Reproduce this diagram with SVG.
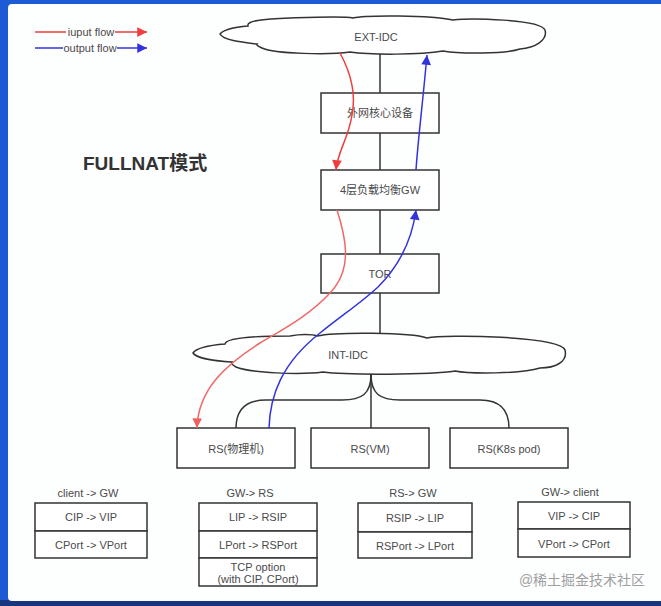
<svg xmlns="http://www.w3.org/2000/svg" width="661" height="606" viewBox="0 0 661 606">
<style>
text{font-family:"Liberation Sans","Noto Sans CJK SC",sans-serif;font-size:11px;fill:#4a4a4a;text-anchor:middle}
.box{fill:#fff;stroke:#333;stroke-width:1.5}
.cloud{fill:#fff;stroke:#333;stroke-width:1.5}
.line{fill:none;stroke:#333;stroke-width:1.5}
.red{fill:none;stroke:#f03c3c;stroke-width:1.5}
.red2{fill:none;stroke:#f06868;stroke-width:1.5}
.blue{fill:none;stroke:#3333dd;stroke-width:1.5}
</style>
<defs>
<marker id="ar" viewBox="0 0 10 10" refX="10" refY="5" markerWidth="8" markerHeight="6.5" markerUnits="strokeWidth" orient="auto"><path d="M0,0 L10,5 L0,10 Z" fill="#f03c3c"/></marker>
<marker id="ar2" viewBox="0 0 10 10" refX="10" refY="5" markerWidth="8" markerHeight="6.5" markerUnits="strokeWidth" orient="auto"><path d="M0,0 L10,5 L0,10 Z" fill="#f06060"/></marker>
<marker id="ab" viewBox="0 0 10 10" refX="10" refY="5" markerWidth="8" markerHeight="6.5" markerUnits="strokeWidth" orient="auto"><path d="M0,0 L10,5 L0,10 Z" fill="#3333dd"/></marker>
</defs>
<rect x="0" y="0" width="661" height="606" fill="#1c5bd3"/>
<rect x="0" y="600" width="661" height="6" fill="#17367e"/>
<rect x="8" y="4" width="700" height="597" rx="4" fill="#fdfefe"/>

<g id="legend">
<path d="M35,32 L66,32" class="red"/>
<text x="91" y="36">iuput flow</text>
<path d="M115,32 L147,32" class="red" marker-end="url(#ar)"/>
<path d="M35,48 L63,48" class="blue"/>
<text x="90" y="52">output flow</text>
<path d="M117,48 L147,48" class="blue" marker-end="url(#ab)"/>
</g>

<g id="title"><text x="83" y="170" style="font-size:19px;font-weight:bold;fill:#333;text-anchor:start">FULLNAT模式</text></g>

<g id="connectors">
<path d="M380,53 L380,93" class="line"/>
<path d="M380,133 L380,170" class="line"/>
<path d="M380,210 L380,254" class="line"/>
<path d="M380,293 L380,334" class="line"/>
<path d="M371,372 L371,428" class="line"/>
<path d="M371,374 C371,394 362,400 342,400 L266,400 C245,400 236,410 236,428" class="line"/>
<path d="M371,374 C371,394 380,400 400,400 L480,400 C500,400 509,410 509,428" class="line"/>
</g>

<g id="ext-idc">
<path class="cloud" d="M220,34 C224,29 236,27 248,26 C246,21 262,19 290,18 C320,17 345,16 353,18 C365,15 430,15 453,20 C470,18 540,19 545,30 C548,40 535,48 520,49 C505,54 460,54 443,51 C420,55 370,55 350,52 C330,55 275,54 262,48 C258,46 256,45 257,44 C240,42 223,40 220,34 Z"/>
<text x="376" y="41">EXT-IDC</text>
</g>

<g id="core"><rect class="box" x="321" y="93" width="118" height="40"/><text x="380" y="117">外网核心设备</text></g>
<g id="gw"><rect class="box" x="321" y="170" width="118" height="40"/><text x="380" y="194">4层负载均衡GW</text></g>
<g id="tor"><rect class="box" x="321" y="254" width="118" height="39"/><text x="380" y="278">TOR</text></g>

<g id="int-idc">
<path class="cloud" d="M193,353 C197,347 212,345 225,344 C226,338 250,336 290,336 C300,334 312,334 317,336 C335,332 410,332 427,338 C445,334 560,336 565,350 C568,362 555,368 540,368 C520,374 470,374 455,371 C430,375 345,375 323,372 C300,375 250,373 236,367 C232,365 231,363 232,362 C215,361 196,358 193,353 Z"/>
<text x="348" y="359">INT-IDC</text>
</g>

<g id="rs-pm"><rect class="box" x="177" y="428" width="118" height="40"/><text x="236" y="453">RS(物理机)</text></g>
<g id="rs-vm"><rect class="box" x="311" y="428" width="118" height="40"/><text x="370" y="453">RS(VM)</text></g>
<g id="rs-k8s"><rect class="box" x="450" y="428" width="118" height="40"/><text x="509" y="453">RS(K8s pod)</text></g>

<g id="flows">
<path class="red" d="M340,53 C352,75 356,95 352,115 C348,140 338,150 336,170" marker-end="url(#ar)"/>
<path class="red2" d="M337,210 C345,235 354,268 330,293 C310,315 282,330 260,343 C225,365 198,390 197,428" marker-end="url(#ar2)"/>
<path class="blue" d="M269,428 C270,395 282,363 320,333 C345,313 362,302 378,287 C400,265 412,240 416,210" marker-end="url(#ab)"/>
<path class="blue" d="M416,170 C418,140 422,110 427,55" marker-end="url(#ab)"/>
</g>

<g id="t1">
<text x="88" y="497">client -&gt; GW</text>
<rect class="box" x="35" y="503" width="112" height="28"/>
<rect class="box" x="35" y="531" width="112" height="27"/>
<text x="91" y="521">CIP -&gt; VIP</text>
<text x="91" y="549">CPort -&gt; VPort</text>
</g>
<g id="t2">
<text x="250" y="497">GW-&gt; RS</text>
<rect class="box" x="199" y="503" width="118" height="28"/>
<rect class="box" x="199" y="531" width="118" height="27"/>
<rect class="box" x="199" y="558" width="118" height="28"/>
<text x="258" y="521">LIP -&gt; RSIP</text>
<text x="258" y="549">LPort -&gt; RSPort</text>
<text x="258" y="571">TCP option</text>
<text x="258" y="583">(with CIP, CPort)</text>
</g>
<g id="t3">
<text x="413" y="497">RS-&gt; GW</text>
<rect class="box" x="358" y="503" width="114" height="29"/>
<rect class="box" x="358" y="532" width="114" height="26"/>
<text x="415" y="522">RSIP -&gt; LIP</text>
<text x="415" y="550">RSPort -&gt; LPort</text>
</g>
<g id="t4">
<text x="570" y="496">GW-&gt; client</text>
<rect class="box" x="518" y="502" width="112" height="27"/>
<rect class="box" x="518" y="529" width="112" height="28"/>
<text x="574" y="520">VIP -&gt; CIP</text>
<text x="574" y="548">VPort -&gt; CPort</text>
</g>

<text x="582" y="585" style="font-size:14px;fill:#a0a0a0">@稀土掘金技术社区</text>
</svg>
